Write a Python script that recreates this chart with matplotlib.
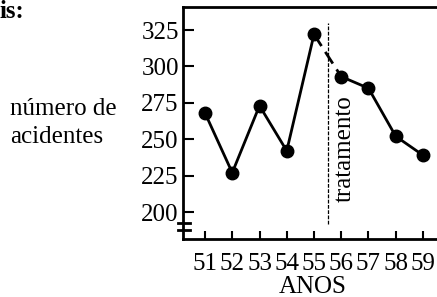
import matplotlib.pyplot as plt
import matplotlib.transforms as mtransforms

anos = [51, 52, 53, 54, 55, 56, 57, 58, 59]
acidentes = [268, 227, 273, 242, 322, 293, 285, 252, 239]
yticks = [200, 225, 250, 275, 300, 325]
inicio_tratamento = 55.5  # treatment starts between 55 and 56

plt.rcParams['font.family'] = ['Liberation Serif', 'DejaVu Serif']

fig = plt.figure(figsize=(4.37, 2.97), dpi=100)
ax = fig.add_axes([0.4188, 0.1953, 0.5812, 0.7811])

# before treatment, transition (dashed), after treatment
ax.plot(anos[:5], acidentes[:5], color='black', lw=2.0, marker='o', ms=9, clip_on=False)
ax.plot(anos[4:6], acidentes[4:6], color='black', lw=2.0, ls=(0, (5, 2.5)))
ax.plot(anos[5:], acidentes[5:], color='black', lw=2.0, marker='o', ms=9, clip_on=False)

ax.plot([inicio_tratamento, inicio_tratamento], [191.8, 329.8], color='black',
        lw=0.9, ls=(0, (3, 1.2)))
ax.text(56.14, 243.3, 'tratamento', rotation=90, ha='center', va='center', fontsize=18)

ax.set_xlim(50.193, 59.514)
ax.set_ylim(181.46, 340.8)
ax.set_xticks(anos)
ax.set_yticks(yticks)
ax.tick_params(axis='x', direction='in', length=6, width=1.5, pad=10, labelsize=18)
ax.tick_params(axis='y', direction='in', length=8, width=1.5, pad=3, labelsize=18)
ax.spines['right'].set_visible(False)
for s in ['left', 'bottom', 'top']:
    ax.spines[s].set_linewidth(2.0)

# axis break marks on the y axis
trans = mtransforms.blended_transform_factory(ax.transAxes, ax.transData)
for yb in [192.4, 187.6]:
    ax.plot([-0.02, 0.028], [yb, yb], color='black', lw=2.0, transform=trans, clip_on=False)

fig.text(313 / 437, 4 / 297, 'ANOS', ha='center', va='baseline', fontsize=18)
fig.text(10 / 437, 0.613, 'número de', ha='left', va='baseline', fontsize=18)
fig.text(10 / 437, 0.5185, 'acidentes', ha='left', va='baseline', fontsize=18)
fig.text(-0.002, 0.939, 'is:', ha='left', va='baseline', fontsize=18, fontweight='bold')

fig.savefig('out.png', dpi=100)
